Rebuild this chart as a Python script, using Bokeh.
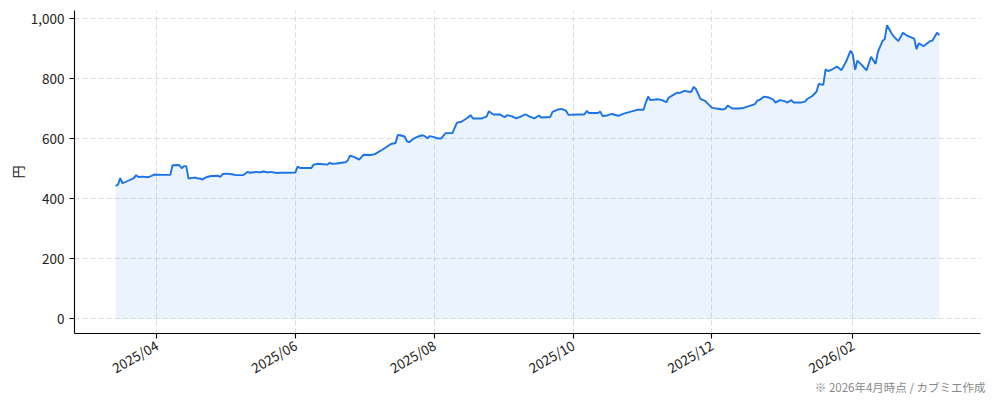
import math
import pandas as pd
from bokeh.plotting import figure
from bokeh.models import (ColumnDataSource, FixedTicker, DatetimeTickFormatter,
                          NumeralTickFormatter, Range1d, Title)
from bokeh.embed import file_html
from bokeh.resources import INLINE

# ---------------- data ----------------
dates = [
    "2025-03-14", "2025-03-15", "2025-03-16", "2025-03-17", "2025-03-20", "2025-03-22",
    "2025-03-23", "2025-03-24", "2025-03-26", "2025-03-28", "2025-03-29", "2025-03-31",
    "2025-04-03", "2025-04-07", "2025-04-08", "2025-04-10", "2025-04-11", "2025-04-12",
    "2025-04-13", "2025-04-14", "2025-04-15", "2025-04-17", "2025-04-18", "2025-04-19",
    "2025-04-20", "2025-04-21", "2025-04-23", "2025-04-25", "2025-04-28", "2025-04-29",
    "2025-04-30", "2025-05-02", "2025-05-04", "2025-05-06", "2025-05-09", "2025-05-11",
    "2025-05-12", "2025-05-15", "2025-05-16", "2025-05-18", "2025-05-20", "2025-05-21",
    "2025-05-24", "2025-05-25", "2025-05-28", "2025-06-01", "2025-06-02", "2025-06-03",
    "2025-06-08", "2025-06-09", "2025-06-11", "2025-06-15", "2025-06-16", "2025-06-17",
    "2025-06-19", "2025-06-23", "2025-06-24", "2025-06-25", "2025-06-27", "2025-06-29",
    "2025-07-01", "2025-07-04", "2025-07-06", "2025-07-07", "2025-07-09", "2025-07-11",
    "2025-07-13", "2025-07-15", "2025-07-16", "2025-07-17", "2025-07-19", "2025-07-20",
    "2025-07-21", "2025-07-23", "2025-07-25", "2025-07-27", "2025-07-28", "2025-07-29",
    "2025-07-30", "2025-08-01", "2025-08-02", "2025-08-04", "2025-08-06", "2025-08-09",
    "2025-08-10", "2025-08-11", "2025-08-13", "2025-08-16", "2025-08-17", "2025-08-18",
    "2025-08-22", "2025-08-24", "2025-08-25", "2025-08-27", "2025-08-30", "2025-09-01",
    "2025-09-02", "2025-09-04", "2025-09-06", "2025-09-08", "2025-09-10", "2025-09-12",
    "2025-09-14", "2025-09-16", "2025-09-17", "2025-09-21", "2025-09-22", "2025-09-24",
    "2025-09-26", "2025-09-28", "2025-09-29", "2025-10-03", "2025-10-06", "2025-10-07",
    "2025-10-08", "2025-10-12", "2025-10-13", "2025-10-14", "2025-10-16", "2025-10-18",
    "2025-10-21", "2025-10-23", "2025-10-28", "2025-10-29", "2025-11-01", "2025-11-02",
    "2025-11-03", "2025-11-04", "2025-11-07", "2025-11-09", "2025-11-11", "2025-11-12",
    "2025-11-15", "2025-11-16", "2025-11-17", "2025-11-19", "2025-11-21", "2025-11-22",
    "2025-11-23", "2025-11-24", "2025-11-26", "2025-11-28", "2025-11-29", "2025-12-01",
    "2025-12-03", "2025-12-06", "2025-12-07", "2025-12-08", "2025-12-10", "2025-12-13",
    "2025-12-15", "2025-12-18", "2025-12-20", "2025-12-21", "2025-12-22", "2025-12-24",
    "2025-12-26", "2025-12-28", "2025-12-29", "2025-12-31", "2026-01-02", "2026-01-03",
    "2026-01-05", "2026-01-06", "2026-01-09", "2026-01-11", "2026-01-12", "2026-01-14",
    "2026-01-16", "2026-01-17", "2026-01-19", "2026-01-20", "2026-01-21", "2026-01-23",
    "2026-01-25", "2026-01-27", "2026-01-29", "2026-01-31", "2026-02-01", "2026-02-02",
    "2026-02-03", "2026-02-05", "2026-02-07", "2026-02-09", "2026-02-11", "2026-02-12",
    "2026-02-14", "2026-02-15", "2026-02-16", "2026-02-18", "2026-02-19", "2026-02-21",
    "2026-02-23", "2026-02-25", "2026-02-28", "2026-03-01", "2026-03-02", "2026-03-04",
    "2026-03-07", "2026-03-08", "2026-03-10", "2026-03-11",
]
prices = [
    443, 447, 469, 452, 462, 469,
    479, 473, 474, 472, 474, 481,
    480, 480, 512, 513, 512, 502,
    509, 509, 468, 470, 471, 468,
    468, 464, 473, 476, 477, 473,
    483, 484, 482, 479, 479, 490,
    487, 490, 488, 491, 488, 490,
    486, 487, 487, 488, 508, 503,
    503, 514, 517, 514, 520, 517,
    518, 522, 528, 544, 539, 531,
    547, 546, 549, 554, 563, 573,
    583, 586, 613, 612, 608, 592,
    589, 601, 608, 612, 608, 602,
    609, 606, 602, 601, 619, 619,
    637, 654, 657, 672, 679, 668,
    668, 674, 692, 681, 681, 672,
    679, 676, 668, 674, 682, 674,
    668, 678, 671, 673, 690, 697,
    700, 693, 680, 681, 681, 693,
    686, 686, 691, 676, 678, 683,
    677, 683, 694, 697, 697, 721,
    741, 729, 732, 730, 722, 737,
    751, 754, 753, 760, 757, 757,
    773, 767, 733, 727, 719, 704,
    701, 698, 701, 711, 701, 701,
    703, 711, 716, 728, 730, 741,
    738, 731, 721, 729, 726, 721,
    729, 721, 721, 724, 733, 742,
    757, 783, 780, 832, 826, 832,
    841, 829, 857, 894, 881, 830,
    861, 846, 828, 874, 850, 890,
    926, 932, 979, 952, 941, 926,
    954, 943, 934, 899, 919, 909,
    926, 928, 954, 946,
]
x_tick_dates = ["2025-04-01", "2025-06-01", "2025-08-01", "2025-10-01", "2025-12-01", "2026-02-01"]
y_ticks = [0, 200, 400, 600, 800, 1000]
y_label = "円"
footnote = "※ 2026年4月時点 / カブミエ作成"

# ---------------- styling ----------------
FONT = "Noto Sans CJK JP"
LINE_COLOR = "#1a73e8"
FRAME_W, FRAME_H = 906, 323
B_LEFT, B_RIGHT, B_TOP, B_BOTTOM = 74, 8, 10, 62

dts = pd.to_datetime(dates)
src = ColumnDataSource(dict(date=dts, price=prices))

span = dts.max() - dts.min()
x_start = dts.min() - span * 0.05
x_end = dts.max() + span * 0.05
ymax = max(prices)
y_pad = ymax * 0.05

p = figure(frame_width=FRAME_W, frame_height=FRAME_H, x_axis_type="datetime",
           x_range=Range1d(x_start, x_end), y_range=Range1d(-y_pad, ymax + y_pad),
           output_backend="svg", toolbar_location=None,
           min_border_left=B_LEFT, min_border_right=B_RIGHT,
           min_border_top=B_TOP, min_border_bottom=B_BOTTOM)
p.outline_line_color = None
p.background_fill_color = "white"
p.border_fill_color = "white"

p.varea(x="date", y1=0, y2="price", source=src, fill_color=LINE_COLOR, fill_alpha=0.085)
p.line(x="date", y="price", source=src, line_color=LINE_COLOR, line_width=1.9)

# grid
for g in (p.xgrid, p.ygrid):
    g.grid_line_color = "#dcdcdc"
    g.grid_line_dash = "5 3"
    g.grid_line_width = 1

# x axis
xa = p.xaxis[0]
xa.ticker = FixedTicker(ticks=[pd.Timestamp(d).value // 10**6 for d in x_tick_dates])
fmt = "%Y/%m"
xa.formatter = DatetimeTickFormatter(years=fmt, months=fmt, days=fmt, hours=fmt,
                                     minutes=fmt, seconds=fmt, milliseconds=fmt,
                                     microseconds=fmt, hourmin=fmt, minsec=fmt)
xa.major_label_orientation = math.pi / 6
xa.minor_tick_line_color = None

# y axis
ya = p.yaxis[0]
ya.ticker = FixedTicker(ticks=y_ticks)
ya.formatter = NumeralTickFormatter(format="0,0")
ya.minor_tick_line_color = None
ya.axis_label = y_label
ya.axis_label_text_font_style = "normal"

for ax in (xa, ya):
    ax.axis_line_color = "black"
    ax.axis_line_width = 1.1
    ax.major_tick_line_color = "black"
    ax.major_tick_line_width = 1.1
    ax.major_tick_out = 5
    ax.major_tick_in = 0
    ax.major_label_standoff = 5
    ax.major_label_text_font = FONT
    ax.major_label_text_font_size = "13.5px"
    ax.major_label_text_color = "#222222"
    ax.axis_label_text_font = FONT
    ax.axis_label_text_font_size = "13px"
    ax.axis_label_text_color = "#222222"
ya.axis_label_standoff = 1

# footnote: pulled up next to the rotated tick labels
note = Title(text=footnote, align="right", vertical_align="top", text_font=FONT,
             text_font_size="11.5px", text_font_style="normal", text_color="#888888",
             standoff=-20, offset=-5)
p.add_layout(note, "below")

open("out.html", "w").write(file_html(p, INLINE))
